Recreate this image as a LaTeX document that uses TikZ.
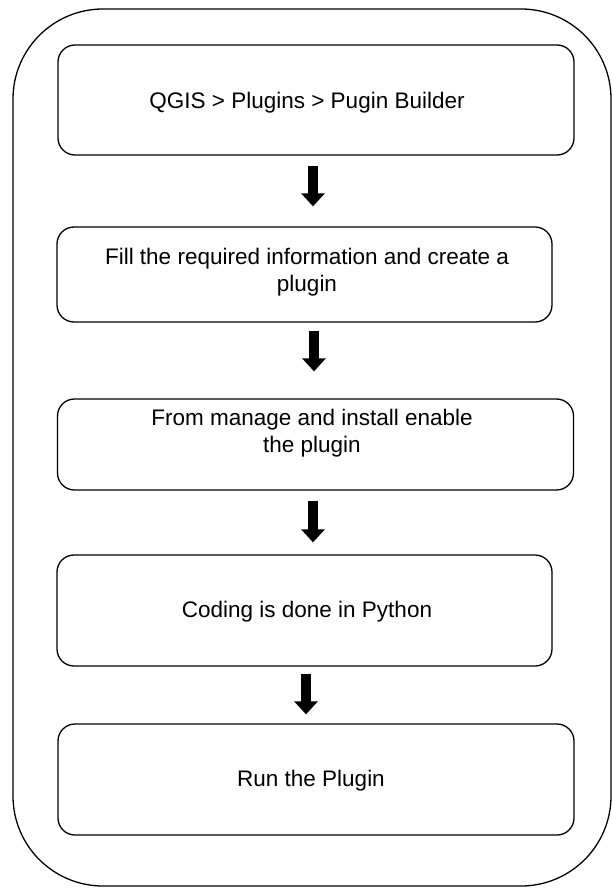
\documentclass[tikz,border=0pt]{standalone}
\usepackage{fontspec}
\setmainfont{Liberation Sans}
\usetikzlibrary{arrows.meta,positioning}

\begin{document}
\begin{tikzpicture}[
  x=1pt, y=-1pt,
  font=\fontsize{22.5}{27}\selectfont,
  box/.style={draw, line width=1.3pt, rounded corners=17pt,
              inner sep=0pt, minimum width=516pt},
  narrow/.style={box, minimum width=495pt},
  txt/.style={align=center, inner sep=0pt},
  frame/.style={draw, line width=1.3pt, rounded corners=90pt, inner sep=0pt},
  arr/.style={-{Triangle[length=13pt, width=23pt]}, line width=10pt}
]
\useasboundingbox (0,0) rectangle (612,888);
\node[frame, minimum width=598pt, minimum height=877pt] (frame) at (312,447.5) {};
% the five steps
\node[box, minimum height=110pt] (qgis) at (316,100) {};
\node[txt] (qgistext) at (307,103) {QGIS > Plugins > Pugin Builder};
\node[narrow, minimum height=95pt] (fill) at (304.5,274.5) {};
\node[txt] (filltext) at (307,272.5) {Fill the required information and create a\\ plugin};
\node[box, minimum height=91pt] (manage) at (315.5,444.5) {};
\node[txt] (managetext) at (312,433.5) {From manage and install enable\\ the plugin};
\node[narrow, minimum height=111pt] (coding) at (304.5,610.5) {};
\node[txt] (codingtext) at (307,612) {Coding is done in Python};
\node[box, minimum height=111pt] (run) at (316,779.5) {};
\node[txt] (runtext) at (311,781) {Run the Plugin};
% arrows
\draw[arr] ([xshift=-3pt, yshift=-10pt]qgis.south) -- ([xshift=8.5pt, yshift=20pt]fill.north);
\draw[arr] ([xshift=9.5pt, yshift=-8pt]fill.south) -- ([xshift=-1.5pt, yshift=27pt]manage.north);
\draw[arr] ([xshift=-2.5pt, yshift=-10pt]manage.south) -- ([xshift=8.5pt, yshift=12pt]coding.north);
\draw[arr] ([xshift=1.5pt, yshift=-7pt]coding.south) -- ([xshift=-10pt, yshift=9pt]run.north);
\end{tikzpicture}
\end{document}
